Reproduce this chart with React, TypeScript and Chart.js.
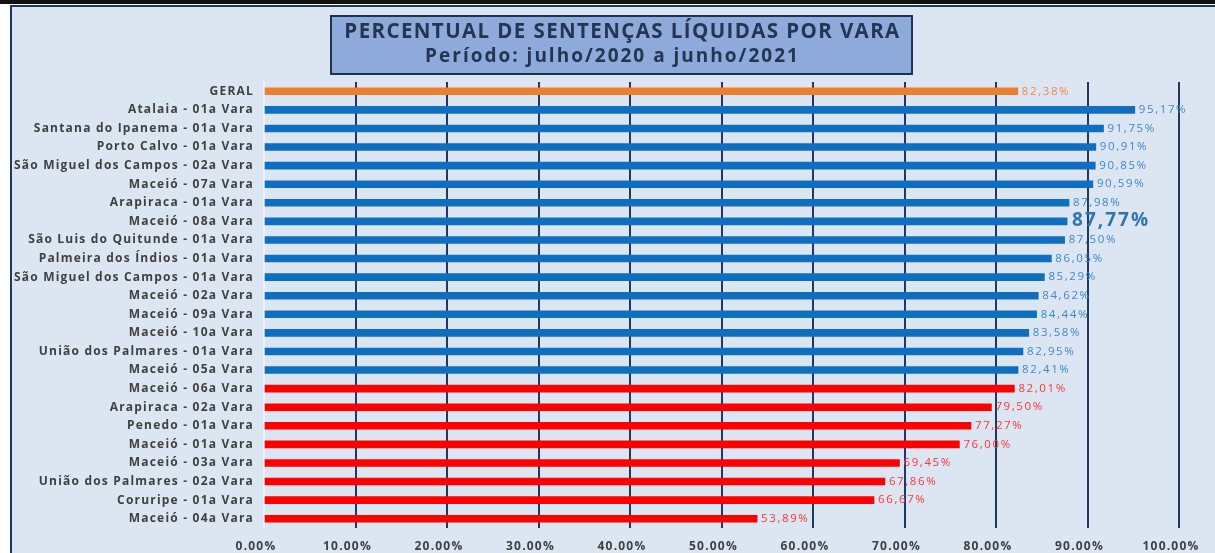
import React, { useEffect, useRef } from "react";
import { Chart, registerables } from "chart.js";

Chart.register(...registerables);

const categories: string[] = [
  "GERAL",
  "Atalaia - 01a Vara",
  "Santana do Ipanema - 01a Vara",
  "Porto Calvo - 01a Vara",
  "São Miguel dos Campos - 02a Vara",
  "Maceió - 07a Vara",
  "Arapiraca - 01a Vara",
  "Maceió - 08a Vara",
  "São Luis do Quitunde - 01a Vara",
  "Palmeira dos Índios - 01a Vara",
  "São Miguel dos Campos - 01a Vara",
  "Maceió - 02a Vara",
  "Maceió - 09a Vara",
  "Maceió - 10a Vara",
  "União dos Palmares - 01a Vara",
  "Maceió - 05a Vara",
  "Maceió - 06a Vara",
  "Arapiraca - 02a Vara",
  "Penedo - 01a Vara",
  "Maceió - 01a Vara",
  "Maceió - 03a Vara",
  "União dos Palmares - 02a Vara",
  "Coruripe - 01a Vara",
  "Maceió - 04a Vara",
];

const percentValues: number[] = [
  82.38, 95.17, 91.75, 90.91, 90.85, 90.59, 87.98, 87.77, 87.5, 86.05, 85.29,
  84.62, 84.44, 83.58, 82.95, 82.41, 82.01, 79.5, 77.27, 76.0, 69.45, 67.86,
  66.67, 53.89,
];

const xTickValues: number[] = [0, 10, 20, 30, 40, 50, 60, 70, 80, 90, 100];

const highlightedCategory = "Maceió - 08a Vara";

const titleLines: string[] = [
  "PERCENTUAL DE SENTENÇAS LÍQUIDAS POR VARA",
  "Período: julho/2020 a junho/2021",
];

const FONT = "'Open Sans', 'DejaVu Sans', sans-serif";
const ORANGE = "#ED7D31";
const BLUE = "#0F6EC0";
const RED = "#FF0000";
const NAVY = "#1F3864";

const barColor = (i: number) =>
  i === 0 ? ORANGE : percentValues[i] > percentValues[0] ? BLUE : RED;
const labelColor = (i: number) =>
  i === 0 ? "#F08A40" : percentValues[i] > percentValues[0] ? "#3D86D2" : "#FF3535";

const fmt = (v: number) => v.toFixed(2).replace(".", ",") + "%";

const backgroundPlugin = {
  id: "panelBg",
  beforeDraw(chart: any) {
    const { ctx, width, height } = chart;
    ctx.save();
    ctx.fillStyle = "#ffffff";
    ctx.fillRect(0, 0, width, height);
    ctx.fillStyle = "#DCE6F2";
    ctx.fillRect(11, 6, width - 11, height - 6);
    ctx.fillStyle = "#111111";
    ctx.fillRect(0, 0, width, 4);
    ctx.fillStyle = NAVY;
    ctx.fillRect(10, 5, width - 10, 2);
    ctx.fillRect(10, 5, 2, height - 5);
    ctx.restore();
    (ctx as any).letterSpacing = "1.2px";
  },
  afterDraw(chart: any) {
    (chart.ctx as any).letterSpacing = "0px";
  },
};

const titlePlugin = {
  id: "titleBox",
  afterDraw(chart: any) {
    const { ctx } = chart;
    ctx.save();
    const x = 331, y = 16, w = 581, h = 58;
    ctx.fillStyle = "#8EAADB";
    ctx.fillRect(x, y, w, h);
    ctx.strokeStyle = "#1F3350";
    ctx.lineWidth = 2;
    ctx.strokeRect(x, y, w, h);
    ctx.fillStyle = "#233552";
    ctx.textAlign = "center";
    ctx.textBaseline = "middle";
    (ctx as any).letterSpacing = "1.4px";
    ctx.font = `bold 20.5px ${FONT}`;
    ctx.fillText(titleLines[0], x + w / 2 + 1, 32);
    ctx.font = `bold 19px ${FONT}`;
    (ctx as any).letterSpacing = "2px";
    ctx.fillText(titleLines[1], x + w / 2 - 9, 57);
    ctx.restore();
  },
};

const dataLabelPlugin = {
  id: "barLabels",
  afterDatasetsDraw(chart: any) {
    const { ctx } = chart;
    const meta = chart.getDatasetMeta(0);
    ctx.save();
    ctx.textBaseline = "middle";
    ctx.textAlign = "left";
    meta.data.forEach((bar: any, i: number) => {
      const big = categories[i] === highlightedCategory;
      ctx.font = big ? `bold 19px ${FONT}` : `11.5px ${FONT}`;
      (ctx as any).letterSpacing = big ? "2px" : "1.6px";
      ctx.fillStyle = big ? "#2E75B6" : labelColor(i);
      ctx.fillText(fmt(percentValues[i]), bar.x + (big ? 5 : 4), bar.y + (big ? -1 : 0));
    });
    ctx.restore();
  },
};

export default function App() {
  const canvasRef = useRef<HTMLCanvasElement | null>(null);

  useEffect(() => {
    document.body.style.margin = "0";
    const canvas = canvasRef.current;
    if (!canvas) return;
    const chart = new Chart(canvas, {
      type: "bar",
      data: {
        labels: categories,
        datasets: [
          {
            data: percentValues,
            backgroundColor: percentValues.map((_, i) => barColor(i)),
            barThickness: 7,
            borderWidth: 0,
          },
        ],
      },
      options: {
        indexAxis: "y",
        responsive: false,
        animation: false,
        layout: { padding: { left: 0, top: 82, right: 36, bottom: 0 } },
        plugins: {
          legend: { display: false },
          title: { display: false },
          tooltip: { enabled: false },
        },
        scales: {
          x: {
            min: 0,
            max: 100,
            afterBuildTicks(scale: any) {
              scale.ticks = xTickValues.map((v) => ({ value: v }));
            },
            afterFit(scale: any) {
              scale.height = 25;
            },
            ticks: {
              padding: 11,
              labelOffset: -8,
              color: "#404040",
              font: { family: FONT, size: 12, weight: "bold" },
              callback: (v: any) => Number(v).toFixed(2) + "%",
            },
            grid: {
              drawTicks: false,
              lineWidth: 2,
              color: (c: any) => (c.tick && c.tick.value === 0 ? "rgba(0,0,0,0)" : NAVY),
            },
            border: { display: false },
          },
          y: {
            afterFit(scale: any) {
              scale.width = 264;
            },
            ticks: {
              padding: 10,
              color: "#404040",
              font: { family: FONT, size: 12, weight: "bold" },
              autoSkip: false,
            },
            grid: { display: false, drawTicks: false },
            border: { display: true, color: "#EEF3FA", width: 2 },
          },
        },
      },
      plugins: [backgroundPlugin, titlePlugin, dataLabelPlugin],
    });
    return () => chart.destroy();
  }, []);

  return (
    <div style={{ width: 1215, height: 553 }}>
      <canvas ref={canvasRef} width={1215} height={553} />
    </div>
  );
}
